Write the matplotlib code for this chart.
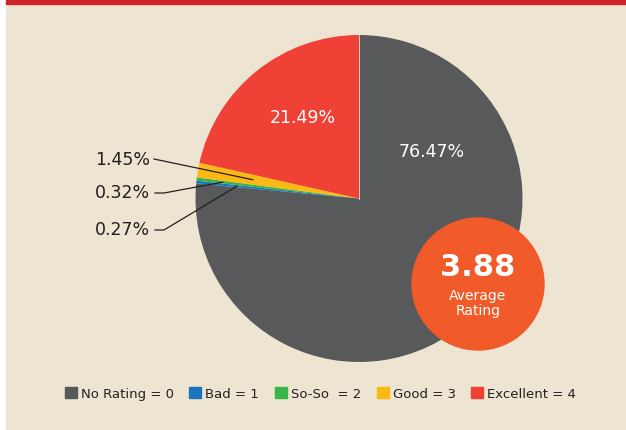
import numpy as np
import matplotlib
matplotlib.use("Agg")
from matplotlib import pyplot as plt
from matplotlib.patches import Rectangle, Circle

# rating shares, clockwise from the top
categories = ['No Rating = 0', 'Bad = 1', 'So-So  = 2', 'Good = 3', 'Excellent = 4']
shares = [76.47, 0.27, 0.32, 1.45, 21.49]
colors = ['#58595B', '#1C75BC', '#39B54A', '#FDB913', '#EF4136']
average_rating = 3.88

W, H = 626, 430
fig = plt.figure(figsize=(W / 100, H / 100), dpi=100, facecolor='white')
ax = fig.add_axes([0, 0, 1, 1])

# background panel + red top bar
ax.add_patch(Rectangle((6, 0), W - 6, H, color='#EDE5D2', zorder=0))
ax.add_patch(Rectangle((6, H - 4), W - 6, 4, color='#D2232A', zorder=1))

cx, cy, r = 359, H - 198.5, 163.5
wedges, _ = ax.pie(shares, colors=colors, startangle=90, counterclock=False,
                   center=(cx, cy), radius=r, frame=True,
                   wedgeprops=dict(linewidth=0))
ax.set_xlim(0, W)
ax.set_ylim(0, H)
ax.set_aspect('equal')
ax.axis('off')

# thin light seam at the top of the pie
ax.plot([cx, cx], [cy, cy + r], color='#E8DCCB', lw=0.6, zorder=3)

# big slice labels
ax.text(432, H - 152, f'{shares[0]:.2f}%', color='white', fontsize=12.5,
        ha='center', va='center', family='DejaVu Sans')
ax.text(303, H - 118, f'{shares[4]:.2f}%', color='white', fontsize=12.5,
        ha='center', va='center', family='DejaVu Sans')

# small slice labels with leader lines: (index, text y, radius fraction)
small = [(3, 160, 0.66), (2, 193, 0.84), (1, 230, 0.75)]
for idx, ty, frac in small:
    w = wedges[idx]
    ang = np.deg2rad((w.theta1 + w.theta2) / 2)
    px = cx + frac * r * np.cos(ang)
    py = cy + frac * r * np.sin(ang)
    y0 = H - ty
    if idx == 3:
        xs, ys = [154, px], [y0 + 1, py]
    else:
        xs, ys = [155, 164, px], [y0, y0, py]
    ax.plot(xs, ys, color='#231F20', lw=0.9, zorder=5)
    ax.text(150, y0, f'{shares[idx]:.2f}%', color='#231F20', fontsize=12.5,
            ha='right', va='center', family='DejaVu Sans')

# average rating badge
ax.add_patch(Circle((478, H - 284), 66, color='#F15A29', zorder=6))
ax.text(478, H - 267, f'{average_rating:.2f}', color='white', fontsize=22,
        fontweight='heavy', ha='center', va='center', zorder=7, family='DejaVu Sans')
ax.text(478, H - 296, 'Average', color='white', fontsize=10, ha='center',
        va='center', zorder=7, family='DejaVu Sans')
ax.text(478, H - 311, 'Rating', color='white', fontsize=10, ha='center',
        va='center', zorder=7, family='DejaVu Sans')

# legend
handles = [Rectangle((0, 0), 1, 1, color=c) for c in colors]
fig.legend(handles, categories, loc='center', bbox_to_anchor=(0.512, 1 - 394 / H),
           ncol=5, frameon=False, handlelength=0.9, handleheight=0.9,
           handletextpad=0.3, columnspacing=1.2, prop={'family': 'DejaVu Sans', 'size': 9.5},
           labelcolor='#231F20')

fig.savefig('out.png', dpi=100, facecolor='white')
